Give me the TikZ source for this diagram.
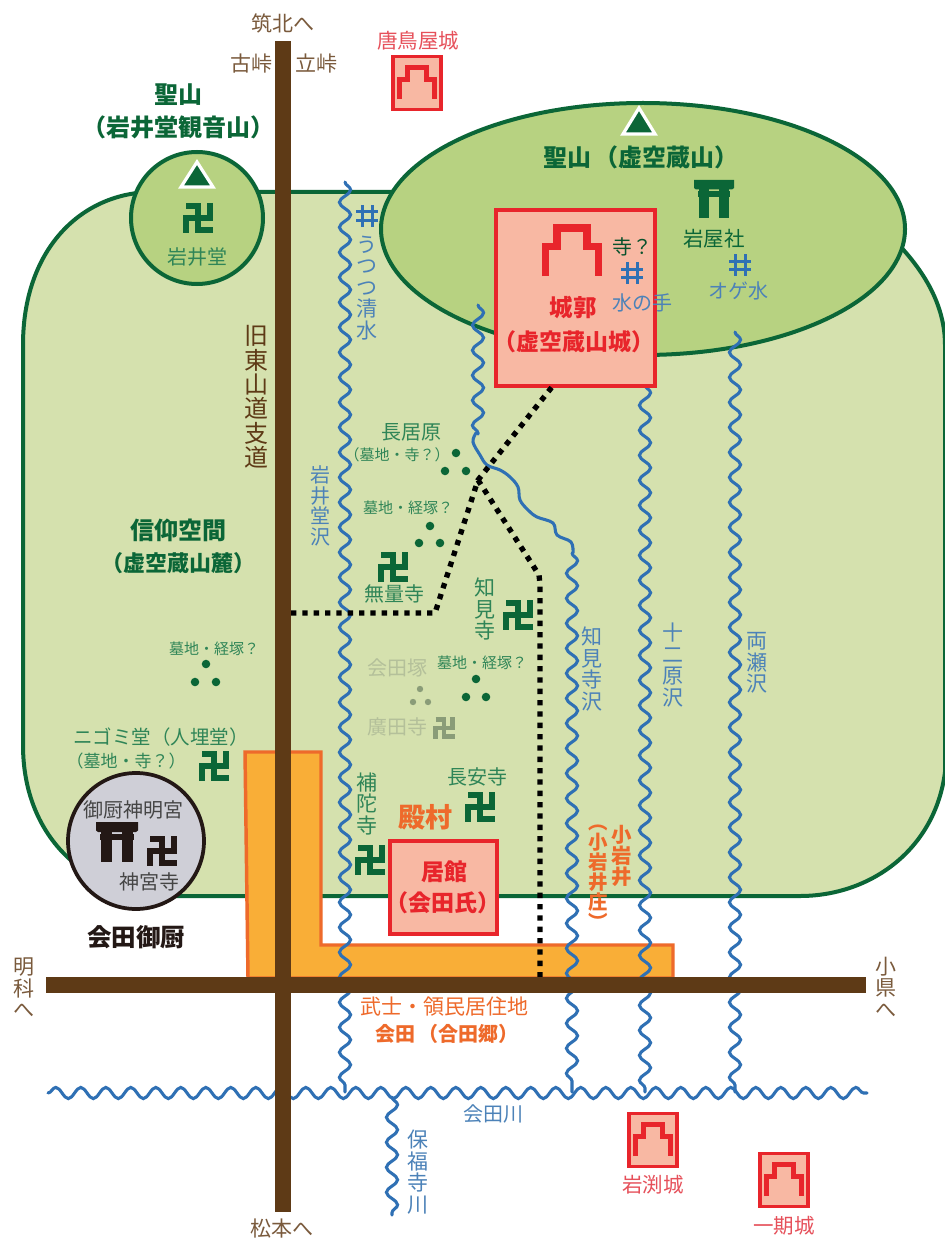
\documentclass[tikz,border=0pt]{standalone}
\usepackage{fontspec}
\usepackage{xfp}
\usetikzlibrary{decorations.pathmorphing}
\newfontfamily\jp{Noto Sans CJK JP}[BoldFont={Noto Sans CJK JP Bold}]
\setmainfont{Noto Sans CJK JP}
\definecolor{regfill}{HTML}{D5E1AE}
\definecolor{hillfill}{HTML}{B7D281}
\definecolor{dkgreen}{HTML}{0B6637}
\definecolor{midgreen}{HTML}{2F8557}
\definecolor{road}{HTML}{5E3A16}
\definecolor{brownt}{HTML}{7A5A3C}
\definecolor{river}{HTML}{2F70B4}
\definecolor{bluet}{HTML}{4C82B8}
\definecolor{redl}{HTML}{E8252B}
\definecolor{redt}{HTML}{E6505A}
\definecolor{pink}{HTML}{F8B8A3}
\definecolor{orfill}{HTML}{F9AE37}
\definecolor{orline}{HTML}{EE6A2B}
\definecolor{fadet}{HTML}{B4C09A}
\definecolor{fadem}{HTML}{8A9C78}
\definecolor{graycirc}{HTML}{CFCFD7}
\definecolor{ink}{HTML}{231815}
\definecolor{inkt}{HTML}{454545}
\newcommand\px[2][]{\edef\tmpsz{\fpeval{#2*0.75}}\edef\tmpbl{\fpeval{#2*0.75*1.02}}\fontsize{\tmpsz}{\tmpbl}\selectfont}
\tikzset{
  lab/.style={inner sep=0pt,align=center},
  regline/.style={draw=dkgreen,line width=3pt},
  wave/.style={draw=river,line width=2.3pt,line cap=round,decorate,decoration={snake,amplitude=4.2pt,segment length=18.75pt}},
  dotroute/.style={draw=black,line width=4pt,dash pattern=on 4pt off 4.5pt},
  castlebox/.style={draw=redl,line width=2.6pt,fill=pink},
  td/.style={fill=dkgreen,circle,inner sep=0pt,minimum size=6.4pt},
  tf/.style={fill=fadem,circle,inner sep=0pt,minimum size=4.8pt},
}
% manji: x y half-size linewidth colour
\newcommand\manji[5]{\draw[#5,line width=#4*0.75pt,line cap=butt,line join=miter,shift={(#1,#2)}]
  (-#3,-#3)--(0,-#3)--(0,#3)--(#3+#4/2,#3) (#3,-#3-#4/2)--(#3,0)--(-#3,0)--(-#3,#3+#4/2);}
% castle icon: x y scale linewidth
\newcommand\castleicon[4]{\draw[redl,line width=#4*0.75pt,line join=miter,shift={(#1,#2)},x=#3*0.75pt,y=-#3*0.75pt]
  (-16,14)--(-16,-4)--(-9,-4)--(-9,-15)--(9,-15)--(9,-4)--(16,-4)--(16,14);}
% torii: x y scale colour
\newcommand\torii[4]{\begin{scope}[shift={(#1,#2)},x=#3*0.75pt,y=-#3*0.75pt]
  \fill[#4] (-20,-19)--(20,-19)--(20,-11)--(18,-9.5)--(-18,-9.5)--(-20,-11)--cycle;
  \fill[#4] (-16,-8)--(16,-8)--(16,-2)--(-16,-2)--cycle;
  \fill[#4] (-15,-9.5)--(-5,-9.5)--(-5,19)--(-15,19)--cycle;
  \fill[#4] (5,-9.5)--(15,-9.5)--(15,19)--(5,19)--cycle;
  \end{scope}}
% well mark
\newcommand\wellmark[3]{\draw[river,line width=#3*0.75pt,shift={(#1,#2)}]
  (-4.5,-11)--(-4.5,11) (5,-11)--(5,11) (-11,-4)--(11,-4) (-11,4.5)--(11,4.5);}
\begin{document}
\begin{tikzpicture}[x=0.75pt,y=-0.75pt]
\useasboundingbox (0,0) rectangle (945,1241);
\fill[white] (0,0) rectangle (945,1241);
\begin{scope}
\clip (0,0) rectangle (945,1241);
% region
\path[regline,fill=regfill]
  (23,345) .. controls (23,250) and (80,194) .. (150,192)
  -- (700,192) -- (860,210) .. controls (905,245) and (945,290) .. (945,345)
  -- (945,772) .. controls (935,850) and (870,896) .. (800,896)
  -- (170,896) .. controls (90,896) and (23,840) .. (23,745) -- cycle;
% hills
\path[regline,fill=hillfill] (643,229) ellipse [x radius=262,y radius=126];
\path[regline,fill=hillfill] (197,218) circle [radius=66];
% orange strip
\path[draw=orline,line width=2.6pt,fill=orfill]
  (245,752)--(321,752)--(321,945)--(673,945)--(673,978)--(248,978)--cycle;
% rivers
\draw[wave] (345,182)--(345,1092);
\draw[wave] (478,305)--(478,434);
\draw[river,line width=2.3pt,line cap=round] plot[smooth,tension=0.6] coordinates
  {(476,433)(473,442)(480,455)(487,465)(500,470)(510,477)(518,487)(520,500)(528,510)(537,517)(553,523)(557,535)(571,542)(573,553)};
\draw[wave] (572,553)--(572,1092);
\draw[wave] (645,385)--(645,1092);
\draw[wave] (735,332)--(735,1092);
\draw[wave] (48,1093)--(867,1093);
\draw[wave] (392,1097)--(392,1215);
% castle
\node[castlebox,minimum width=119pt,minimum height=132pt,inner sep=0pt] (honjo) at (575.5,298) {};
% dotted routes
\coordinate (d0) at (291,613);
\coordinate (d1) at (435,613);
\coordinate (dx) at (478,480);
\coordinate (d2) at (552,387);
\coordinate (d3) at (539,575);
\coordinate (d4) at (540,584);
\coordinate (d5) at (540,977);
\draw[dotroute] (d0)--(d1)--(dx)--(d2);
\draw[dotroute] (dx)--(d3)--(d4)--(d5);
% small castles & residence
\node[castlebox,minimum width=36pt,minimum height=40pt,inner sep=0pt] (karasu) at (417,83) {};
\node[castlebox,minimum width=36pt,minimum height=40pt,inner sep=0pt] (iwabuchi) at (653,1140) {};
\node[castlebox,minimum width=36pt,minimum height=40pt,inner sep=0pt] (ichigo) at (784,1180) {};
\node[castlebox,minimum width=80pt,minimum height=70pt,inner sep=0pt] (kyokan) at (443.5,887.5) {};
\castleicon{417}{84}{1.08}{5}
\castleicon{653}{1141}{1.08}{5}
\castleicon{784}{1181}{1.08}{5}
\castleicon{572}{253}{1.65}{7.5}
% gray circle
\path[draw=ink,line width=2.8pt,fill=graycirc] (136,841) circle [radius=68];
% roads
\fill[road] (46,977) rectangle (866,993);
\fill[road] (275,41) rectangle (291,1212);
% triangles
\path[draw=white,line width=2.4pt,fill=dkgreen,line join=miter] (197,162)--(181,187)--(213,187)--cycle;
\path[draw=white,line width=2.4pt,fill=dkgreen,line join=miter] (639,108)--(623,134)--(655,134)--cycle;
% symbols
\manji{198}{218}{12}{6}{dkgreen}
\manji{393}{567}{12}{6}{dkgreen}
\manji{518}{615}{12}{6}{dkgreen}
\manji{214}{766}{12}{6}{dkgreen}
\manji{370}{860}{12}{6}{dkgreen}
\manji{480}{807}{12}{6}{dkgreen}
\manji{162}{851}{12}{6}{ink}
\manji{444}{728}{8.5}{4.5}{fadem}
\torii{714}{199}{1}{dkgreen}
\torii{117}{842}{1.05}{ink}
\wellmark{367}{216}{3}
\wellmark{632}{273}{3}
\wellmark{740}{265}{3}
% three-dot marks
\node[td] (a1) at (456,453) {}; \node[td] (a2) at (445,471) {}; \node[td] (a3) at (466,471) {};
\node[td] (b1) at (430,526) {}; \node[td] (b2) at (419,543) {}; \node[td] (b3) at (440,543) {};
\node[td] (c1) at (206,664) {}; \node[td] (c2) at (195,682) {}; \node[td] (c3) at (216,682) {};
\node[td] (e1) at (476,679) {}; \node[td] (e2) at (466,697) {}; \node[td] (e3) at (486,697) {};
\node[tf] (f1) at (420,689) {}; \node[tf] (f2) at (413,702) {}; \node[tf] (f3) at (428,702) {};
% brown labels
\node[lab,text=brownt,font=\px{21}] (t1) at (283,23) {筑北へ};
\node[lab,text=brownt,font=\px{21}] (t2) at (251,64) {古峠};
\node[lab,text=brownt,font=\px{21}] (t3) at (316,64) {立峠};
\node[lab,text=brownt,font=\px{21}] (t4) at (282,1229) {松本へ};
\node[lab,text=brownt,font=\px{21}] (t5) at (24,988) {明\\科\\へ};
\node[lab,text=brownt,font=\px{21}] (t6) at (886,987) {小\\県\\へ};
\node[lab,text=road,font=\px{24}] (t7) at (256,397) {旧\\東\\山\\道\\支\\道};
% red labels
\node[lab,text=redt,font=\px{20.5}] (t8) at (418,41) {唐鳥屋城};
\node[lab,text=redt,font=\px{20.5}] (t9) at (653,1185) {岩渕城};
\node[lab,text=redt,font=\px{20.5}] (t10) at (784,1226) {一期城};
\node[lab,text=redl,font=\bfseries\px{23.5}] (t11) at (573,308) {城郭};
\node[lab,text=redl,font=\bfseries\px{23}] (t12) at (574,342) {（虚空蔵山城）};
\node[lab,text=redl,font=\bfseries\px{23}] (t13) at (444,872) {居館};
\node[lab,text=redl,font=\bfseries\px{23}] (t14) at (443,903) {（会田氏）};
% green titles
\node[lab,text=dkgreen,font=\bfseries\px{24}] (t15) at (178,95) {聖山};
\node[lab,text=dkgreen,font=\bfseries\px{24}] (t16) at (178,127) {（岩井堂観音山）};
\node[lab,text=dkgreen,font=\bfseries\px{24}] (t17) at (641,157) {聖山\hspace{3pt}（虚空蔵山）};
\node[lab,text=dkgreen,font=\bfseries\px{24}] (t18) at (178,530) {信仰空間};
\node[lab,text=dkgreen,font=\bfseries\px{22}] (t19) at (178,563) {（虚空蔵山麓）};
% green labels
\node[lab,text=midgreen,font=\px{20}] (t20) at (197,257) {岩井堂};
\node[lab,text=dkgreen,font=\px{20.5}] (t21) at (714,239) {岩屋社};
\node[lab,text=dkgreen!80!black,font=\px{20}] (t22) at (632,247) {寺？};
\node[lab,text=midgreen,font=\px{20}] (t23) at (411,432) {長居原};
\node[lab,text=midgreen,font=\px{15}] (t24) at (397,455) {（墓地・寺？）};
\node[lab,text=midgreen,font=\px{15}] (t25) at (408,508) {墓地・経塚？};
\node[lab,text=midgreen,font=\px{20}] (t26) at (394,594) {無量寺};
\node[lab,text=midgreen,font=\px{15}] (t27) at (214,649) {墓地・経塚？};
\node[lab,text=midgreen,font=\px{19.5}] (t28) at (161,737) {ニゴミ堂（人埋堂）};
\node[lab,text=midgreen,font=\px{17}] (t29) at (126,761) {（墓地・寺？）};
\node[lab,text=midgreen,font=\px{21}] (t30) at (367,804) {補\\陀\\寺};
\node[lab,text=midgreen,font=\px{20}] (t31) at (477,777) {長安寺};
\node[lab,text=midgreen,font=\px{21}] (t32) at (485,609) {知\\見\\寺};
\node[lab,text=midgreen,font=\px{15}] (t33) at (482,663) {墓地・経塚？};
\node[lab,text=fadet,font=\px{20}] (t34) at (397,668) {会田塚};
\node[lab,text=fadet,font=\px{20}] (t35) at (397,727) {廣田寺};
% blue labels
\node[lab,text=bluet,font=\px{21}] (t36) at (367,288) {う\\つ\\つ\\清\\水};
\node[lab,text=bluet,font=\px{20}] (t37) at (320,506) {岩\\井\\堂\\沢};
\node[lab,text=bluet,font=\px{21}] (t38) at (592,669) {知\\見\\寺\\沢};
\node[lab,text=bluet,font=\px{21}] (t39) at (673,665) {十\\二\\原\\沢};
\node[lab,text=bluet,font=\px{21}] (t40) at (757,663) {両\\瀬\\沢};
\node[lab,text=bluet,font=\px{20}] (t41) at (738,291) {オゲ水};
\node[lab,text=bluet,font=\px{20}] (t42) at (642,303) {水の手};
\node[lab,text=bluet,font=\px{20}] (t43) at (493,1114) {会田川};
\node[lab,text=bluet,font=\px{21}] (t44) at (418,1172) {保\\福\\寺\\川};
% orange labels
\node[lab,text=orline,font=\bfseries\px{27}] (t45) at (425,817) {殿村};
\node[lab,text=orline,font=\bfseries\px{20.5}] (t46) at (622,856) {小\\岩\\井};
\node[lab,text=orline,font=\bfseries\px{19.5}] (t47) at (598,877) {︵\\小\\岩\\井\\庄\\︶};
\node[lab,text=orline,font=\px{21}] (t48) at (444,1007) {武士・領民居住地};
\node[lab,text=orline,font=\bfseries\px{20}] (t49) at (447,1034) {会田\hspace{2pt}（合田郷）};
% gray circle labels
\node[lab,text=ink,font=\bfseries\px{24.5}] (t50) at (136,937) {会田御厨};
\node[lab,text=inkt,font=\px{20}] (t51) at (133,810) {御厨神明宮};
\node[lab,text=inkt,font=\px{20}] (t52) at (149,882) {神宮寺};
\end{scope}
\end{tikzpicture}
\end{document}
